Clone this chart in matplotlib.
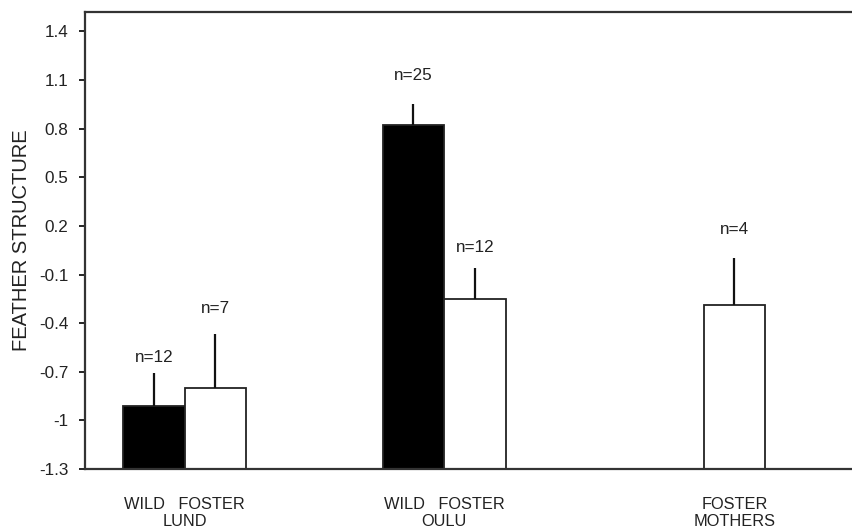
import matplotlib
matplotlib.use("Agg")
import matplotlib.pyplot as plt
import numpy as np

# --- data ---
groups = ["WILD   FOSTER\nLUND", "WILD   FOSTER\nOULU", "FOSTER\nMOTHERS"]
bar_names = ["Lund wild", "Lund foster", "Oulu wild", "Oulu foster", "Foster mothers"]
means = [-0.91, -0.80, 0.82, -0.25, -0.29]
err_top = [-0.71, -0.465, 0.95, -0.06, 0.0]
n_labels = ["n=12", "n=7", "n=25", "n=12", "n=4"]
is_wild = [True, False, True, False, False]

# --- layout ---
bar_x = np.array([0.0, 1.0, 4.22, 5.22, 9.44])
group_x = [0.5, 4.72, 9.44]
label_y = [-0.61, -0.31, 1.125, 0.065, 0.18]
BASE = -1.3

plt.rcParams["font.family"] = ["Liberation Sans", "DejaVu Sans"]

fig = plt.figure(figsize=(8.53, 5.30), dpi=100)
ax = fig.add_axes([0.0996, 0.1151, 0.9004, 0.8623])

colors = ["black" if w else "white" for w in is_wild]
heights = np.array(means) - BASE
ax.bar(bar_x, heights, width=1.0, bottom=BASE, color=colors,
       edgecolor="#222222", linewidth=1.3, zorder=2)

# one-sided error bars, no caps
ax.vlines(bar_x, means, err_top, color="#111111", linewidth=1.6, zorder=3)

for x, y, t in zip(bar_x, label_y, n_labels):
    ax.text(x, y, t, ha="center", va="center", fontsize=12.3, color="#222222")

ax.set_ylim(BASE, 1.52)
ax.set_xlim(-1.122, 11.37)
ax.set_yticks([-1.3, -1.0, -0.7, -0.4, -0.1, 0.2, 0.5, 0.8, 1.1, 1.4])
ax.set_yticklabels(["-1.3", "-1", "-0.7", "-0.4", "-0.1", "0.2", "0.5", "0.8", "1.1", "1.4"])
ax.tick_params(axis="y", direction="out", length=4, width=1.2, pad=8,
               labelsize=12.3, labelcolor="#222222")

ax.set_xticks(group_x)
ax.set_xticklabels(groups, fontsize=11.8, color="#222222", linespacing=1.2)
ax.tick_params(axis="x", length=0, pad=20)

ax.set_ylabel("FEATHER STRUCTURE", fontsize=14.5, color="#222222", labelpad=6)

ax.spines["right"].set_visible(False)
for s in ["left", "top", "bottom"]:
    ax.spines[s].set_linewidth(1.6)
    ax.spines[s].set_color("#333333")

fig.savefig("out.png", dpi=100)
